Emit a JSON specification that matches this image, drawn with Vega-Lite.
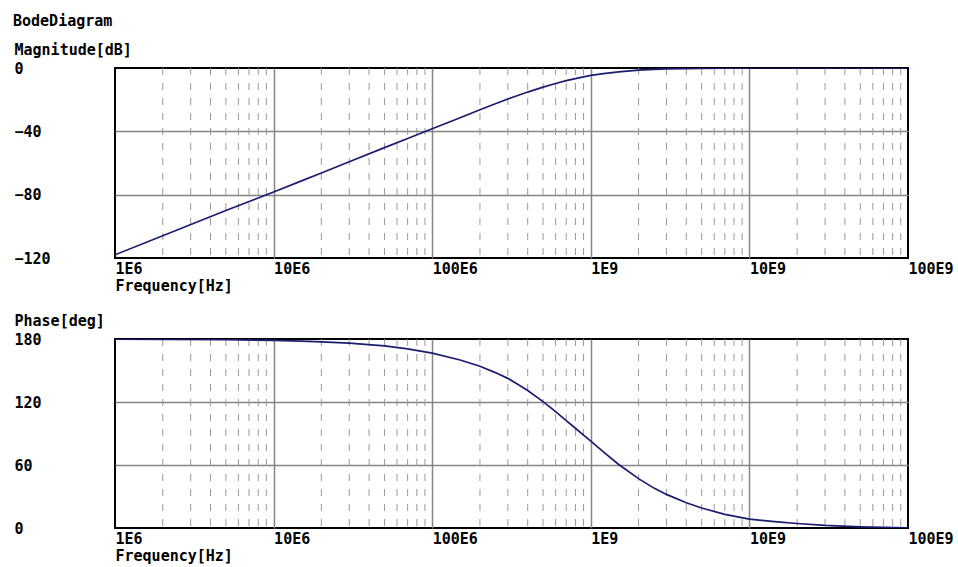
{
  "$schema": "https://vega.github.io/schema/vega-lite/v6.json",
  "padding": {"left": 13, "top": 14, "right": 2, "bottom": 2},
  "background": "white",
  "title": {"text": "BodeDiagram", "anchor": "start", "frame": "bounds", "font": "DejaVu Sans Mono", "fontSize": 15, "fontWeight": "bold", "color": "black", "offset": 12},
  "config": {
    "view": {"stroke": "black", "strokeWidth": 2},
    "font": "DejaVu Sans Mono",
    "axis": {
      "labelFont": "DejaVu Sans Mono", "labelFontSize": 15, "labelFontWeight": "bold", "labelColor": "black",
      "titleFont": "DejaVu Sans Mono", "titleFontSize": 15, "titleFontWeight": "bold", "titleColor": "black",
      "domain": false, "ticks": false, "tickSize": 0, "gridColor": "#858585", "gridWidth": 1.5, "gridOpacity": 1
    }
  },
  "datasets": {
    "bode": [
      {"f": 1e6, "mag": -118, "phase": 179.8},
      {"f": 2e6, "mag": -106, "phase": 179.7},
      {"f": 5e6, "mag": -90, "phase": 179.3},
      {"f": 1e7, "mag": -78.3, "phase": 178.6},
      {"f": 1.5e7, "mag": -71.3, "phase": 178},
      {"f": 2e7, "mag": -66.3, "phase": 177.3},
      {"f": 3e7, "mag": -59.2, "phase": 176},
      {"f": 5e7, "mag": -50.3, "phase": 173.4},
      {"f": 7e7, "mag": -44.5, "phase": 170.6},
      {"f": 1e8, "mag": -38.4, "phase": 166.5},
      {"f": 1.5e8, "mag": -31.4, "phase": 160},
      {"f": 2e8, "mag": -26.4, "phase": 154},
      {"f": 2.5e8, "mag": -22.6, "phase": 148},
      {"f": 3e8, "mag": -19.6, "phase": 142.5},
      {"f": 3.5e8, "mag": -17.2, "phase": 136.5},
      {"f": 4e8, "mag": -15.2, "phase": 131},
      {"f": 5e8, "mag": -12.1, "phase": 120.3},
      {"f": 6e8, "mag": -9.8, "phase": 110.8},
      {"f": 7e8, "mag": -8.0, "phase": 102.3},
      {"f": 8e8, "mag": -6.7, "phase": 95},
      {"f": 9e8, "mag": -5.6, "phase": 88.5},
      {"f": 1e9, "mag": -4.7, "phase": 82.8},
      {"f": 1.2e9, "mag": -3.5, "phase": 72.5},
      {"f": 1.5e9, "mag": -2.4, "phase": 60.5},
      {"f": 2e9, "mag": -1.4, "phase": 47},
      {"f": 2.5e9, "mag": -0.9, "phase": 38},
      {"f": 3e9, "mag": -0.6, "phase": 32},
      {"f": 4e9, "mag": -0.35, "phase": 24},
      {"f": 5e9, "mag": -0.2, "phase": 19},
      {"f": 7e9, "mag": -0.1, "phase": 13},
      {"f": 1e10, "mag": 0, "phase": 8.5},
      {"f": 1.5e10, "mag": 0, "phase": 5.8},
      {"f": 2e10, "mag": 0, "phase": 4.3},
      {"f": 3e10, "mag": 0, "phase": 2.5},
      {"f": 5e10, "mag": 0, "phase": 1.1},
      {"f": 1e11, "mag": 0, "phase": 0.2}
    ],
    "minor": [
      {"f": 2e6}, {"f": 3e6}, {"f": 4e6}, {"f": 5e6}, {"f": 6e6}, {"f": 7e6}, {"f": 8e6}, {"f": 9e6},
      {"f": 2e7}, {"f": 3e7}, {"f": 4e7}, {"f": 5e7}, {"f": 6e7}, {"f": 7e7}, {"f": 8e7}, {"f": 9e7},
      {"f": 2e8}, {"f": 3e8}, {"f": 4e8}, {"f": 5e8}, {"f": 6e8}, {"f": 7e8}, {"f": 8e8}, {"f": 9e8},
      {"f": 2e9}, {"f": 3e9}, {"f": 4e9}, {"f": 5e9}, {"f": 6e9}, {"f": 7e9}, {"f": 8e9}, {"f": 9e9},
      {"f": 2e10}, {"f": 3e10}, {"f": 4e10}, {"f": 5e10}, {"f": 6e10}, {"f": 7e10}, {"f": 8e10}, {"f": 9e10}
    ]
  },
  "bounds": "flush",
  "spacing": 81,
  "vconcat": [
    {
      "width": 793, "height": 190,
      "layer": [
        {
          "data": {"name": "minor"},
          "mark": {"type": "rule", "color": "#999999", "strokeWidth": 1, "strokeDash": [7, 8]},
          "encoding": {
            "x": {"field": "f", "type": "quantitative", "scale": {"type": "log", "domain": [1e6, 1e11]},
              "axis": {"values": [1e6, 1e7, 1e8, 1e9, 1e10, 1e11], "labelExpr": "datum.value == 1e6 ? '1E6' : datum.value == 1e7 ? '10E6' : datum.value == 1e8 ? '100E6' : datum.value == 1e9 ? '1E9' : datum.value == 1e10 ? '10E9' : '100E9'",
                "labelAlign": "left", "labelBaseline": "alphabetic", "labelPadding": 15, "labelFlush": false, "labelOverlap": false,
                "title": "Frequency[Hz]", "titleAlign": "left", "titleAnchor": "start", "titleX": 0, "titleY": 32, "titleBaseline": "alphabetic",
                "gridOpacity": {"condition": {"test": "datum.value <= 1e6 || datum.value >= 1e11", "value": 0}, "value": 1}}}
          }
        },
        {
          "data": {"name": "bode"},
          "mark": {"type": "line", "color": "#1c1c70", "strokeWidth": 1.7, "clip": true},
          "encoding": {
            "x": {"field": "f", "type": "quantitative"},
            "y": {"field": "mag", "type": "quantitative", "scale": {"domain": [-120, 0]},
              "axis": {"values": [-120, -80, -40, 0], "labelAlign": "left", "labelBaseline": "middle", "labelPadding": 101,
                "title": "Magnitude[dB]", "titleAngle": 0, "titleAlign": "left", "titleAnchor": "start", "titleBaseline": "alphabetic", "titleX": -101, "titleY": -14,
                "gridOpacity": {"condition": {"test": "datum.value <= -120 || datum.value >= 0", "value": 0}, "value": 1}}}
          }
        }
      ]
    },
    {
      "width": 793, "height": 189,
      "layer": [
        {
          "data": {"name": "minor"},
          "mark": {"type": "rule", "color": "#999999", "strokeWidth": 1, "strokeDash": [7, 8]},
          "encoding": {
            "x": {"field": "f", "type": "quantitative", "scale": {"type": "log", "domain": [1e6, 1e11]},
              "axis": {"values": [1e6, 1e7, 1e8, 1e9, 1e10, 1e11], "labelExpr": "datum.value == 1e6 ? '1E6' : datum.value == 1e7 ? '10E6' : datum.value == 1e8 ? '100E6' : datum.value == 1e9 ? '1E9' : datum.value == 1e10 ? '10E9' : '100E9'",
                "labelAlign": "left", "labelBaseline": "alphabetic", "labelPadding": 15, "labelFlush": false, "labelOverlap": false,
                "title": "Frequency[Hz]", "titleAlign": "left", "titleAnchor": "start", "titleX": 0, "titleY": 32, "titleBaseline": "alphabetic",
                "gridOpacity": {"condition": {"test": "datum.value <= 1e6 || datum.value >= 1e11", "value": 0}, "value": 1}}}
          }
        },
        {
          "data": {"name": "bode"},
          "mark": {"type": "line", "color": "#1c1c70", "strokeWidth": 1.7, "clip": true},
          "encoding": {
            "x": {"field": "f", "type": "quantitative"},
            "y": {"field": "phase", "type": "quantitative", "scale": {"domain": [0, 180]},
              "axis": {"values": [0, 60, 120, 180], "labelAlign": "left", "labelBaseline": "middle", "labelPadding": 101,
                "title": "Phase[deg]", "titleAngle": 0, "titleAlign": "left", "titleAnchor": "start", "titleBaseline": "alphabetic", "titleX": -101, "titleY": -14,
                "gridOpacity": {"condition": {"test": "datum.value <= 0 || datum.value >= 180", "value": 0}, "value": 1}}}
          }
        }
      ]
    }
  ]
}
